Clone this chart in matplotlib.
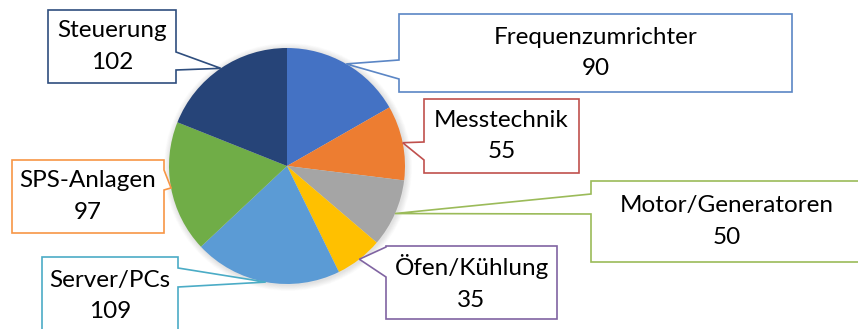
import numpy as np
import matplotlib
matplotlib.use("Agg")
import matplotlib.pyplot as plt
from matplotlib.patches import Polygon, Circle

# Anzahl Geräte je Kategorie
categories = ["Frequenzumrichter", "Messtechnik", "Motor/Generatoren", "Öfen/Kühlung",
              "Server/PCs", "SPS-Anlagen", "Steuerung"]
values = [90, 55, 50, 35, 109, 97, 102]

slice_colors = ["#4472C4", "#ED7D31", "#A5A5A5", "#FFC000", "#5B9BD5", "#70AD47", "#264478"]
border_colors = ["#5B86C5", "#C0504D", "#9BBB59", "#8064A2", "#4BACC6", "#F79646", "#2F4E7E"]

# Callout boxes in pixel coords (x0, y0, x1, y1 from the top-left), pointer side and span
boxes = [
    ((399, 14, 792, 92), "left", (60, 79)),
    ((424, 99, 579, 173), "left", (142, 160)),
    ((591, 181, 863, 262), "left", (194, 214)),
    ((386, 246, 557, 319), "left", (247, 277)),
    ((42, 257, 178, 335), "right", (268, 287)),
    ((12, 160, 164, 233), "right", (170, 190)),
    ((48, 10, 176, 83), "right", (52, 70)),
]

W, H = 858, 329
center_px = (287, 166)
radius = 118


def Y(y):
    return H - y


fig = plt.figure(figsize=(W / 100, H / 100), dpi=100)
ax = fig.add_axes([0, 0, 1, 1])

# soft shadow behind the pie
for i in range(10):
    ax.add_patch(Circle((center_px[0] + 1, Y(center_px[1]) - 1), radius + 0.6 * (10 - i),
                        facecolor="black", edgecolor="none", alpha=0.012, zorder=0))

wedges, _ = ax.pie(values, colors=slice_colors, startangle=90, counterclock=False,
                   center=(center_px[0], Y(center_px[1])), radius=radius, frame=True,
                   wedgeprops=dict(linewidth=0))

for w, cat, val, col, (box, side, span) in zip(wedges, categories, values, border_colors, boxes):
    mid = np.deg2rad((w.theta1 + w.theta2) / 2)
    tip = (w.center[0] + w.r * np.cos(mid), w.center[1] + w.r * np.sin(mid))
    x0, y0, x1, y1 = box
    ya, yb = span
    if side == "left":
        pts = [(x0, Y(y0)), (x1, Y(y0)), (x1, Y(y1)), (x0, Y(y1)), (x0, Y(yb)), tip, (x0, Y(ya))]
    else:
        pts = [(x0, Y(y0)), (x1, Y(y0)), (x1, Y(ya)), tip, (x1, Y(yb)), (x1, Y(y1)), (x0, Y(y1))]
    ax.add_patch(Polygon(pts, closed=True, facecolor="white", edgecolor=col,
                         linewidth=1.2, zorder=3, joinstyle="miter"))
    ax.text((x0 + x1) / 2, Y((y0 + y1) / 2), f"{cat}\n{val}", ha="center", va="center",
            fontsize=17.5, family="Lato", linespacing=1.6, color="black", zorder=4)

ax.set_xlim(0, W)
ax.set_ylim(0, H)
ax.set_aspect("auto")
ax.axis("off")

fig.savefig("out.png", dpi=100, facecolor="white")
